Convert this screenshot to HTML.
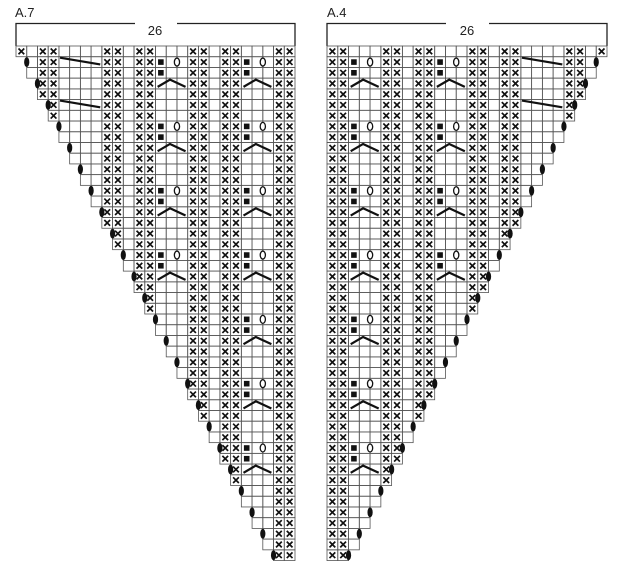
<!DOCTYPE html>
<html><head><meta charset="utf-8">
<style>
html,body{margin:0;padding:0;background:#fff;}
body{width:641px;height:576px;overflow:hidden;position:relative;}
svg{position:absolute;left:0;top:0;}
text{font-family:"Liberation Sans",sans-serif;fill:#222;}
</style></head>
<body>
<svg id="s" width="641" height="576" viewBox="0 0 641 576" xmlns="http://www.w3.org/2000/svg">
<text x="15" y="17" font-size="13">A.7</text>
<text x="155" y="35" font-size="13" text-anchor="middle">26</text>
<polyline points="135,23.5 16,23.5 16,46" fill="none" stroke="#222" stroke-width="1.3"/>
<polyline points="177,23.5 295,23.5 295,46" fill="none" stroke="#222" stroke-width="1.3"/>
<text x="327" y="17" font-size="13">A.4</text>
<text x="467" y="35" font-size="13" text-anchor="middle">26</text>
<polyline points="446,23.5 327,23.5 327,46" fill="none" stroke="#222" stroke-width="1.3"/>
<polyline points="489,23.5 607,23.5 607,46" fill="none" stroke="#222" stroke-width="1.3"/>
<g id="g"></g>
</svg>
<script>
(function(){
var g=document.getElementById('g'),out=[];
var H=10.72,Y0=46,ROWS=48;
function cellRect(x,y,w){out.push('<rect x="'+x.toFixed(2)+'" y="'+y.toFixed(2)+'" width="'+w.toFixed(2)+'" height="'+H.toFixed(2)+'" fill="none" stroke="#555" stroke-width="0.8"/>');}
function X(x,y,w){var a=2.5;out.push('<path d="M'+(x+a)+' '+(y+a)+'L'+(x+w-a)+' '+(y+H-a)+'M'+(x+w-a)+' '+(y+a)+'L'+(x+a)+' '+(y+H-a)+'" stroke="#111" stroke-width="1.7"/>');}
function bump(x,y){out.push('<ellipse cx="'+x+'" cy="'+(y+H/2)+'" rx="2.6" ry="5" fill="#111"/>');}
function sq(x,y,w){out.push('<rect x="'+(x+w/2-2.8)+'" y="'+(y+H/2-2.8)+'" width="5.6" height="5.6" fill="#111"/>');}
function ring(x,y){out.push('<ellipse cx="'+x+'" cy="'+(y+H/2)+'" rx="2.6" ry="4" fill="#fff" stroke="#111" stroke-width="1.3"/>');}
function line(pts){out.push('<polyline points="'+pts+'" fill="none" stroke="#111" stroke-width="2.2"/>');}
function chart(x0,w,xs,motifs,diag,left){
  for(var r=0;r<ROWS;r++){
    var y=Y0+r*H,k=Math.ceil(r/2),s,e;
    if(left){s=k;e=25;}else{s=0;e=25-k;}
    for(var c=s;c<=e;c++){
      var x=x0+c*w;cellRect(x,y,w);
      if(xs.indexOf(c)>=0) X(x,y,w);
      if(r==0 && ((left&&c==0)||(!left&&c==25))) X(x,y,w);
    }
    motifs.forEach(function(m){
      for(var kk=1;kk<ROWS;kk+=6){
        var ks=Math.ceil(kk/2);
        var ok=left?(ks<m):(25-ks>m+2);
        if(!ok) continue;
        if(r==kk){sq(x0+m*w,y,w);ring(x0+(m+2)*w,y);}
        if(r==kk+1){sq(x0+m*w,y,w);}
        if(r==kk+2){line((x0+(m+0.2)*w)+','+(y+H-2)+' '+(x0+(m+1.35)*w)+','+(y+1.5)+' '+(x0+(m+2.8)*w)+','+(y+H-2));}
      }
    });
    if(r==1||r==5){line((x0+(diag+0.1)*w)+','+(y+1)+' '+(x0+(diag+3.85)*w)+','+(y+H-3));}
    if(r%2==1){ if(left) bump(x0+s*w,y); else bump(x0+(e+1)*w,y); }
  }
}
chart(16,279/26,[2,3,8,9,11,12,16,17,19,20,24,25],[13,21],4,true);
chart(327,280/26,[0,1,5,6,8,9,13,14,16,17,22,23],[2,10],18,false);
g.innerHTML=out.join('');
})();
</script>
</body></html>
